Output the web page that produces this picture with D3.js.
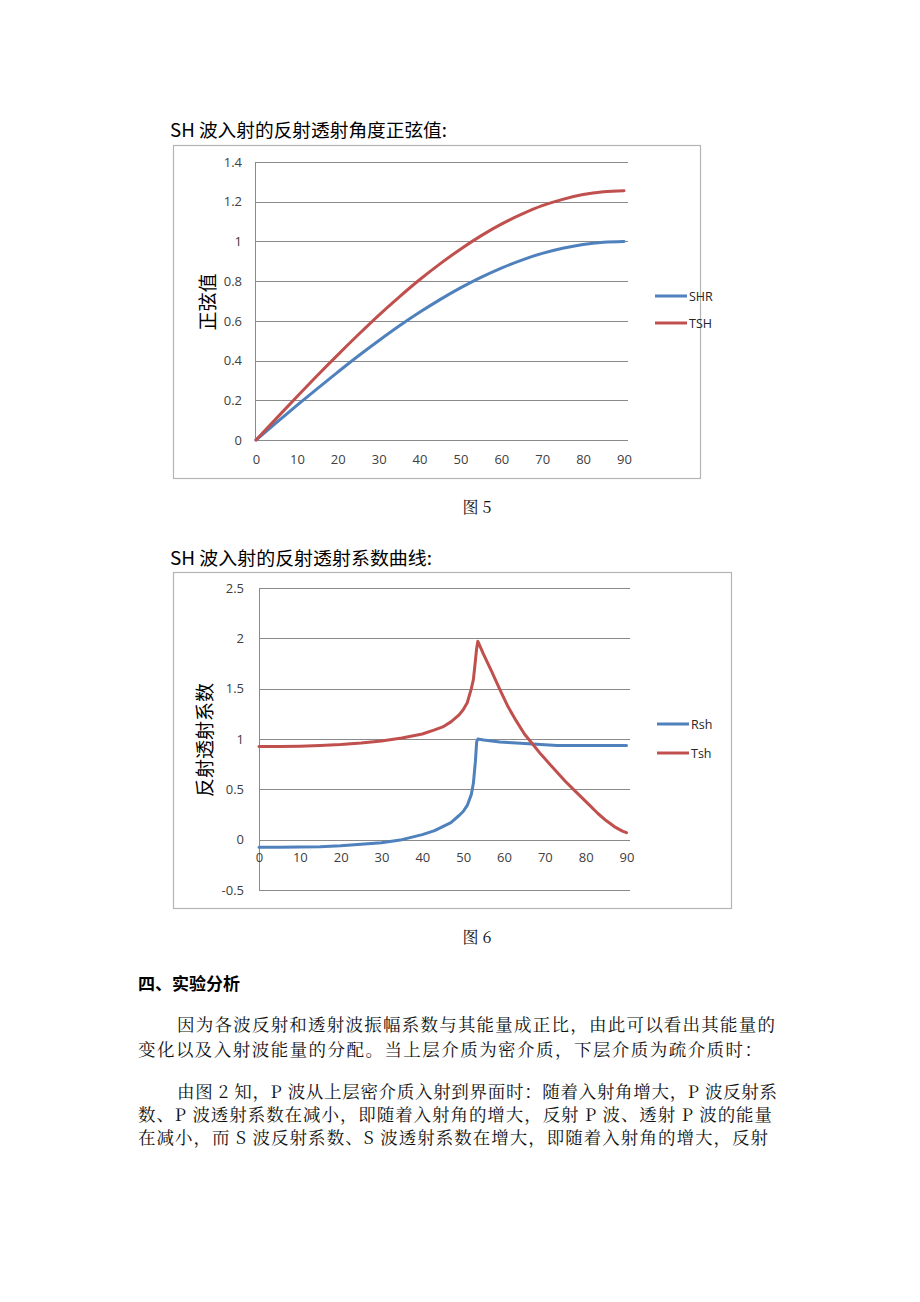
<!DOCTYPE html>
<html><head><meta charset="utf-8">
<script src="https://cdn.jsdelivr.net/npm/d3@7/dist/d3.min.js"></script>
<style>
html,body{margin:0;padding:0;background:#fff;}
svg{display:block;}
</style></head><body>
<script>
// ---------- Data ----------
const angles1 = [0,5,10,15,20,25,30,35,40,45,50,55,60,65,70,75,80,85,90];
const shrValues = [0,0.087,0.174,0.259,0.342,0.423,0.5,0.574,0.643,0.707,0.766,0.819,0.866,0.906,0.94,0.966,0.985,0.996,1.0];
const tshValues = [0,0.109,0.218,0.325,0.429,0.53,0.628,0.72,0.807,0.887,0.961,1.028,1.087,1.137,1.18,1.212,1.236,1.25,1.255];
const xTicks1 = [0,10,20,30,40,50,60,70,80,90];
const yTicks1 = [0,0.2,0.4,0.6,0.8,1,1.2,1.4];

const angles2 = [0,5,10,15,20,25,30,35,40,43,45,47,49,50,51,52,52.5,53,53.3,53.6,55,57,59,61,63,65,67,69,71,73,75,77,79,81,83,85,87,89,90];
const rshValues = [-0.075,-0.075,-0.074,-0.07,-0.06,-0.045,-0.03,0.0,0.05,0.09,0.13,0.17,0.24,0.28,0.34,0.45,0.56,0.78,0.97,1.0,0.99,0.98,0.97,0.965,0.96,0.955,0.95,0.945,0.94,0.935,0.935,0.935,0.935,0.935,0.935,0.935,0.935,0.935,0.935];
const tshValues2 = [0.925,0.925,0.928,0.935,0.945,0.96,0.98,1.01,1.05,1.09,1.12,1.17,1.24,1.29,1.36,1.5,1.59,1.78,1.9,1.97,1.84,1.67,1.49,1.32,1.18,1.05,0.95,0.85,0.76,0.67,0.58,0.5,0.42,0.34,0.26,0.19,0.13,0.085,0.07];
const xTicks2 = [0,10,20,30,40,50,60,70,80,90];
const yTicks2 = [-0.5,0,0.5,1,1.5,2,2.5];

const title1 = "SH 波入射的反射透射角度正弦值:";
const title2 = "SH 波入射的反射透射系数曲线:";
const yLabel1 = "正弦值";
const yLabel2 = "反射透射系数";
const legend1 = ["SHR","TSH"];
const legend2 = ["Rsh","Tsh"];
const caption1 = "图 5";
const caption2 = "图 6";
const heading = "四、实验分析";
const paragraphs = [
  ["因为各波反射和透射波振幅系数与其能量成正比，由此可以看出其能量的", "变化以及入射波能量的分配。当上层介质为密介质，下层介质为疏介质时："],
  ["由图 2 知，P 波从上层密介质入射到界面时：随着入射角增大，P 波反射系", "数、P 波透射系数在减小，即随着入射角的增大，反射 P 波、透射 P 波的能量", "在减小，而 S 波反射系数、S 波透射系数在增大，即随着入射角的增大，反射"]
];

// ---------- Drawing ----------
const W = 920, H = 1302;
const svg = d3.select("body").append("svg").attr("width", W).attr("height", H);
svg.append("rect").attr("width", W).attr("height", H).attr("fill", "#fff");

const BLUE = "#4F81BD", RED = "#C0504D";
const TICKFONT = "'Open Sans','Liberation Sans',sans-serif";
const CJK = "'Noto Sans CJK SC','Noto Sans',sans-serif";

function drawChart(cfg) {
  const g = svg.append("g");
  g.append("rect").attr("x", cfg.frame[0] + 0.5).attr("y", cfg.frame[1] + 0.5)
    .attr("width", cfg.frame[2] - cfg.frame[0]).attr("height", cfg.frame[3] - cfg.frame[1])
    .attr("fill", "#fff").attr("stroke", "#b4b4b4").attr("stroke-width", 1.2);

  const x = d3.scaleLinear().domain([0, 90]).range(cfg.xr);
  const y = d3.scaleLinear().domain(cfg.yd).range(cfg.yr);

  g.append("g").selectAll("line").data(cfg.yTicks).join("line")
    .attr("x1", cfg.plotL).attr("x2", cfg.plotR)
    .attr("y1", d => Math.round(y(d)) + 0.5).attr("y2", d => Math.round(y(d)) + 0.5)
    .attr("stroke", "#8a8a8a").attr("stroke-width", 1);
  g.append("line").attr("x1", cfg.plotL + 0.5).attr("x2", cfg.plotL + 0.5)
    .attr("y1", y(cfg.yd[1])).attr("y2", y(cfg.yd[0]))
    .attr("stroke", "#8a8a8a").attr("stroke-width", 1);

  const yAxis = d3.axisLeft(y).tickValues(cfg.yTicks).tickSize(0).tickPadding(0)
    .tickFormat(d => String(+d.toFixed(1)));
  const ya = g.append("g").attr("transform", `translate(${cfg.yLabelX},0)`).call(yAxis);
  ya.select(".domain").remove();
  ya.selectAll("text").attr("font-family", TICKFONT).attr("font-size", 13).attr("fill", "#404040");

  const xAxis = d3.axisBottom(x).tickValues(cfg.xTicks).tickSize(0).tickPadding(0).tickFormat(d3.format("d"));
  const xa = g.append("g").attr("transform", `translate(0,${cfg.xLabelY})`).call(xAxis);
  xa.select(".domain").remove();
  xa.selectAll("text").attr("font-family", TICKFONT).attr("font-size", 13).attr("fill", "#404040");

  const line = d3.line().x(d => x(d[0])).y(d => y(d[1])).curve(cfg.curve);
  cfg.series.forEach(s => {
    g.append("path").datum(s.x.map((a, i) => [a, s.v[i]]))
      .attr("d", line).attr("fill", "none").attr("stroke", s.color)
      .attr("stroke-width", 3).attr("stroke-linejoin", "round").attr("stroke-linecap", "round");
  });

  g.append("text").attr("transform", `translate(${cfg.yTitle[0]},${cfg.yTitle[1]}) rotate(-90)`)
    .attr("text-anchor", "middle").attr("dominant-baseline", "central")
    .attr("font-family", CJK).attr("font-size", 19).attr("fill", "#000").text(cfg.yTitleText);

  cfg.series.forEach((s, i) => {
    const ly = cfg.legend[1] + i * cfg.legendGap;
    g.append("line").attr("x1", cfg.legend[0]).attr("x2", cfg.legend[0] + 32)
      .attr("y1", ly).attr("y2", ly).attr("stroke", s.color).attr("stroke-width", 3);
    g.append("text").attr("x", cfg.legend[0] + 34).attr("y", ly).attr("dominant-baseline", "central")
      .attr("font-family", TICKFONT).attr("font-size", 12.5).attr("fill", "#262626").text(s.name);
  });
}

svg.append("text").attr("x", 170).attr("y", 137).attr("font-family", CJK).attr("font-size", 18)
  .attr("textLength", 277).attr("lengthAdjust", "spacingAndGlyphs").attr("fill", "#000").text(title1);
svg.append("text").attr("x", 170).attr("y", 565).attr("font-family", CJK).attr("font-size", 18)
  .attr("textLength", 262).attr("lengthAdjust", "spacingAndGlyphs").attr("fill", "#000").text(title2);

drawChart({
  frame: [173, 145, 700, 478],
  xr: [256, 624], yd: [0, 1.4], yr: [440, 162],
  plotL: 255, plotR: 628,
  yTicks: yTicks1, xTicks: xTicks1,
  yLabelX: 242, xLabelY: 455,
  yTitle: [206, 302], yTitleText: yLabel1,
  legend: [655, 296], legendGap: 27,
  curve: d3.curveMonotoneX,
  series: [
    {name: legend1[0], x: angles1, v: shrValues, color: BLUE},
    {name: legend1[1], x: angles1, v: tshValues, color: RED}
  ]
});

drawChart({
  frame: [173, 572, 731, 908],
  xr: [259, 626.5], yd: [-0.5, 2.5], yr: [890, 588],
  plotL: 259, plotR: 630,
  yTicks: yTicks2, xTicks: xTicks2,
  yLabelX: 244, xLabelY: 853,
  yTitle: [203, 740], yTitleText: yLabel2,
  legend: [657, 724], legendGap: 29,
  curve: d3.curveLinear,
  series: [
    {name: legend2[0], x: angles2, v: rshValues, color: BLUE},
    {name: legend2[1], x: angles2, v: tshValues2, color: RED}
  ]
});

const SERIF = "'Noto Serif CJK SC','Noto Sans CJK SC',serif";
svg.append("text").attr("x", 477).attr("y", 513).attr("text-anchor", "middle").attr("font-family", SERIF)
  .attr("font-size", 16).attr("fill", "#111").text(caption1);
svg.append("text").attr("x", 477).attr("y", 943).attr("text-anchor", "middle").attr("font-family", SERIF)
  .attr("font-size", 16).attr("fill", "#111").text(caption2);

svg.append("text").attr("x", 138).attr("y", 990).attr("font-family", CJK).attr("font-weight", "bold")
  .attr("font-size", 17).attr("fill", "#000").text(heading);

const lineSpecs = [
  {y: 1031, x0: 177, x1: 775},
  {y: 1056, x0: 138, x1: 762},
  {y: 1098, x0: 177, x1: 777},
  {y: 1121, x0: 138, x1: 772},
  {y: 1144, x0: 138, x1: 768}
];
const allLines = paragraphs.flat();
allLines.forEach((t, i) => {
  const s = lineSpecs[i];
  svg.append("text").attr("x", s.x0).attr("y", s.y).attr("font-family", SERIF)
    .attr("font-size", 17.5).attr("fill", "#111")
    .attr("textLength", s.x1 - s.x0).attr("lengthAdjust", "spacing").text(t);
});
</script>
</body></html>
